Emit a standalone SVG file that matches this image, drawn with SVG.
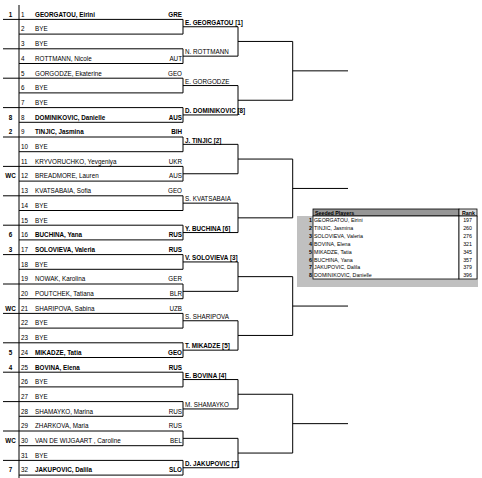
<svg xmlns="http://www.w3.org/2000/svg" width="482" height="478" viewBox="0 0 482 478">
<style>
.t{font-family:"Liberation Sans",Arial,sans-serif;font-size:6.3px;fill:#000}
.b{font-weight:bold}
.r{text-anchor:end}
.m{text-anchor:middle}
.ln{stroke:#000;stroke-width:1;fill:none}
.s{font-family:"Liberation Sans",Arial,sans-serif;font-size:5.3px;fill:#000}
</style>
<rect width="482" height="478" fill="#fff"/>
<g id="connectors" class="ln">
<path d="M19 5V478"/>
<path d="M3 19.4H183V34.1H19"/><path d="M3 48.8H183V63.5H19"/><path d="M3 78.2H183V92.9H19"/><path d="M3 107.6H183V122.3H19"/>
<path d="M3 137H183V151.7H19"/><path d="M3 166.4H183V181.1H19"/><path d="M3 195.8H183V210.5H19"/><path d="M3 225.2H183V239.9H19"/>
<path d="M3 254.6H183V269.3H19"/><path d="M3 284H183V298.7H19"/><path d="M3 313.4H183V328.1H19"/><path d="M3 342.8H183V357.5H19"/>
<path d="M3 372.2H183V386.9H19"/><path d="M3 401.6H183V416.3H19"/><path d="M3 431H183V445.7H19"/><path d="M3 460.4H183V475.1H19"/>
<path d="M183 26.75H238V56.15H183"/><path d="M183 85.55H238V114.95H183"/><path d="M183 144.35H238V173.75H183"/><path d="M183 203.15H238V232.55H183"/>
<path d="M183 261.95H238V291.35H183"/><path d="M183 320.75H238V350.15H183"/><path d="M183 379.55H238V408.95H183"/><path d="M183 438.35H238V467.75H183"/>
<path d="M238 41.45H292.7V100.25H238"/><path d="M238 159.05H292.7V217.85H238"/><path d="M238 276.65H292.7V335.45H238"/><path d="M238 394.25H292.7V453.05H238"/>
<path d="M292.7 70.85H348"/><path d="M292.7 188.45H348"/><path d="M292.7 306.05H348"/><path d="M292.7 423.65H348"/>
</g>
<g id="players" class="t">
<g id="p1"><text x="10.5" y="16.7" class="m b">1</text><text x="21" y="16.7">1</text><text x="35" y="16.7" class="b">GEORGATOU, Eirini</text><text x="182" y="16.7" class="r b">GRE</text></g>
<g id="p2"><text x="21" y="31.4">2</text><text x="35" y="31.4">BYE</text></g>
<g id="p3"><text x="21" y="46.1">3</text><text x="35" y="46.1">BYE</text></g>
<g id="p4"><text x="21" y="60.8">4</text><text x="35" y="60.8">ROTTMANN, Nicole</text><text x="182" y="60.8" class="r">AUT</text></g>
<g id="p5"><text x="21" y="75.5">5</text><text x="35" y="75.5">GORGODZE, Ekaterine</text><text x="182" y="75.5" class="r">GEO</text></g>
<g id="p6"><text x="21" y="90.2">6</text><text x="35" y="90.2">BYE</text></g>
<g id="p7"><text x="21" y="104.9">7</text><text x="35" y="104.9">BYE</text></g>
<g id="p8"><text x="10.5" y="119.6" class="m b">8</text><text x="21" y="119.6">8</text><text x="35" y="119.6" class="b">DOMINIKOVIC, Danielle</text><text x="182" y="119.6" class="r b">AUS</text></g>
<g id="p9"><text x="10.5" y="134.3" class="m b">2</text><text x="21" y="134.3">9</text><text x="35" y="134.3" class="b">TINJIC, Jasmina</text><text x="182" y="134.3" class="r b">BIH</text></g>
<g id="p10"><text x="21" y="149">10</text><text x="35" y="149">BYE</text></g>
<g id="p11"><text x="21" y="163.7">11</text><text x="35" y="163.7">KRYVORUCHKO, Yevgeniya</text><text x="182" y="163.7" class="r">UKR</text></g>
<g id="p12"><text x="10.5" y="178.4" class="m b">WC</text><text x="21" y="178.4">12</text><text x="35" y="178.4">BREADMORE, Lauren</text><text x="182" y="178.4" class="r">AUS</text></g>
<g id="p13"><text x="21" y="193.1">13</text><text x="35" y="193.1">KVATSABAIA, Sofia</text><text x="182" y="193.1" class="r">GEO</text></g>
<g id="p14"><text x="21" y="207.8">14</text><text x="35" y="207.8">BYE</text></g>
<g id="p15"><text x="21" y="222.5">15</text><text x="35" y="222.5">BYE</text></g>
<g id="p16"><text x="10.5" y="237.2" class="m b">6</text><text x="21" y="237.2">16</text><text x="35" y="237.2" class="b">BUCHINA, Yana</text><text x="182" y="237.2" class="r b">RUS</text></g>
<g id="p17"><text x="10.5" y="251.9" class="m b">3</text><text x="21" y="251.9">17</text><text x="35" y="251.9" class="b">SOLOVIEVA, Valeria</text><text x="182" y="251.9" class="r b">RUS</text></g>
<g id="p18"><text x="21" y="266.6">18</text><text x="35" y="266.6">BYE</text></g>
<g id="p19"><text x="21" y="281.3">19</text><text x="35" y="281.3">NOWAK, Karolina</text><text x="182" y="281.3" class="r">GER</text></g>
<g id="p20"><text x="21" y="296">20</text><text x="35" y="296">POUTCHEK, Tatiana</text><text x="182" y="296" class="r">BLR</text></g>
<g id="p21"><text x="10.5" y="310.7" class="m b">WC</text><text x="21" y="310.7">21</text><text x="35" y="310.7">SHARIPOVA, Sabina</text><text x="182" y="310.7" class="r">UZB</text></g>
<g id="p22"><text x="21" y="325.4">22</text><text x="35" y="325.4">BYE</text></g>
<g id="p23"><text x="21" y="340.1">23</text><text x="35" y="340.1">BYE</text></g>
<g id="p24"><text x="10.5" y="354.8" class="m b">5</text><text x="21" y="354.8">24</text><text x="35" y="354.8" class="b">MIKADZE, Tatia</text><text x="182" y="354.8" class="r b">GEO</text></g>
<g id="p25"><text x="10.5" y="369.5" class="m b">4</text><text x="21" y="369.5">25</text><text x="35" y="369.5" class="b">BOVINA, Elena</text><text x="182" y="369.5" class="r b">RUS</text></g>
<g id="p26"><text x="21" y="384.2">26</text><text x="35" y="384.2">BYE</text></g>
<g id="p27"><text x="21" y="398.9">27</text><text x="35" y="398.9">BYE</text></g>
<g id="p28"><text x="21" y="413.6">28</text><text x="35" y="413.6">SHAMAYKO, Marina</text><text x="182" y="413.6" class="r">RUS</text></g>
<g id="p29"><text x="21" y="428.3">29</text><text x="35" y="428.3">ZHARKOVA, Maria</text><text x="182" y="428.3" class="r">RUS</text></g>
<g id="p30"><text x="10.5" y="443" class="m b">WC</text><text x="21" y="443">30</text><text x="35" y="443">VAN DE WIJGAART , Caroline</text><text x="182" y="443" class="r">BEL</text></g>
<g id="p31"><text x="21" y="457.7">31</text><text x="35" y="457.7">BYE</text></g>
<g id="p32"><text x="10.5" y="472.4" class="m b">7</text><text x="21" y="472.4">32</text><text x="35" y="472.4" class="b">JAKUPOVIC, Dalila</text><text x="182" y="472.4" class="r b">SLO</text></g>
</g>
<g id="winners" class="t">
<g id="w1"><text x="185" y="25" class="b">E. GEORGATOU [1]</text></g>
<g id="w2"><text x="185" y="54.4">N. ROTTMANN</text></g>
<g id="w3"><text x="185" y="83.8">E. GORGODZE</text></g>
<g id="w4"><text x="185" y="113.2" class="b">D. DOMINIKOVIC [8]</text></g>
<g id="w5"><text x="185" y="142.6" class="b">J. TINJIC [2]</text></g>
<g id="w7"><text x="185" y="201.4">S. KVATSABAIA</text></g>
<g id="w8"><text x="185" y="230.8" class="b">Y. BUCHINA [6]</text></g>
<g id="w9"><text x="185" y="260.2" class="b">V. SOLOVIEVA [3]</text></g>
<g id="w11"><text x="185" y="319">S. SHARIPOVA</text></g>
<g id="w12"><text x="185" y="348.4" class="b">T. MIKADZE [5]</text></g>
<g id="w13"><text x="185" y="377.8" class="b">E. BOVINA [4]</text></g>
<g id="w14"><text x="185" y="407.2">M. SHAMAYKO</text></g>
<g id="w16"><text x="185" y="466" class="b">D. JAKUPOVIC [7]</text></g>
</g>
<g id="seeded">
<rect x="297" y="216" width="181" height="71" fill="#c0c0c0"/>
<rect x="313" y="209" width="146" height="7" fill="#969696" stroke="#000" stroke-width="0.8"/>
<rect x="459" y="209" width="18" height="7" fill="#d9d9d9" stroke="#000" stroke-width="0.8"/>
<rect x="313" y="216" width="146" height="63" fill="#fff" stroke="#000" stroke-width="0.8"/>
<rect x="459" y="216" width="18" height="63" fill="#fff" stroke="#000" stroke-width="0.8"/>
<text x="315" y="214.6" class="s b">Seeded Players</text>
<text x="462" y="214.6" class="s b">Rank</text>
<g class="s">
<text x="312" y="222.3" class="r b">1</text><text x="314" y="222.3">GEORGATOU, Eirini</text><text x="472" y="222.3" class="r">197</text>
<text x="312" y="230.1" class="r b">2</text><text x="314" y="230.1">TINJIC, Jasmina</text><text x="472" y="230.1" class="r">260</text>
<text x="312" y="238" class="r b">3</text><text x="314" y="238">SOLOVIEVA, Valeria</text><text x="472" y="238" class="r">276</text>
<text x="312" y="245.9" class="r b">4</text><text x="314" y="245.9">BOVINA, Elena</text><text x="472" y="245.9" class="r">321</text>
<text x="312" y="253.7" class="r b">5</text><text x="314" y="253.7">MIKADZE, Tatia</text><text x="472" y="253.7" class="r">345</text>
<text x="312" y="261.6" class="r b">6</text><text x="314" y="261.6">BUCHINA, Yana</text><text x="472" y="261.6" class="r">357</text>
<text x="312" y="269.4" class="r b">7</text><text x="314" y="269.4">JAKUPOVIC, Dalila</text><text x="472" y="269.4" class="r">379</text>
<text x="312" y="277.3" class="r b">8</text><text x="314" y="277.3">DOMINIKOVIC, Danielle</text><text x="472" y="277.3" class="r">396</text>
</g>
</g>
</svg>
